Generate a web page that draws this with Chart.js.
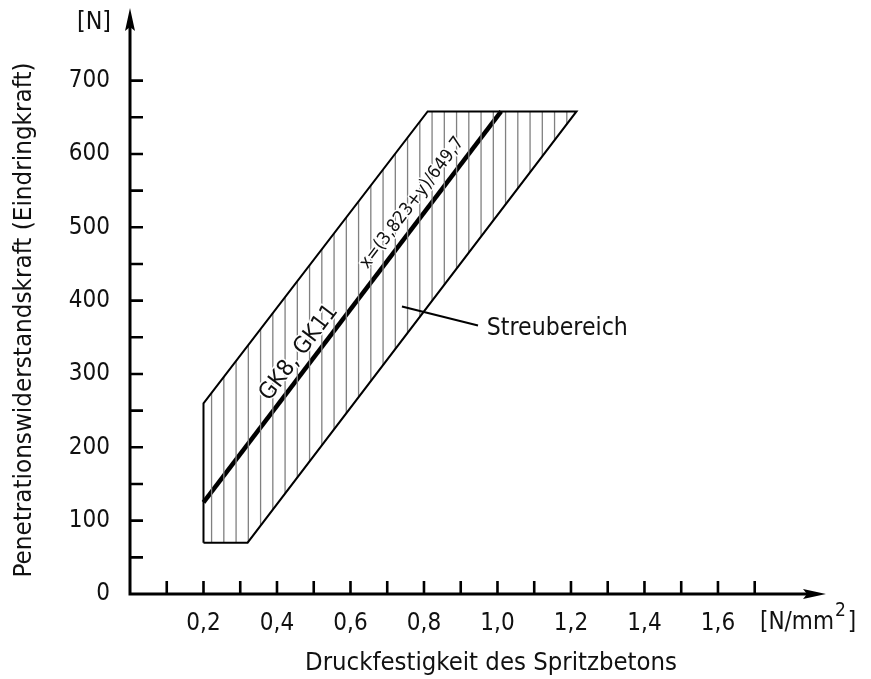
<!DOCTYPE html>
<html>
<head>
<meta charset="utf-8">
<script src="https://cdn.jsdelivr.net/npm/chart.js@4/dist/chart.umd.min.js"></script>
<style>
  html, body { margin: 0; padding: 0; background: #fff; }
  canvas { display: block; }
</style>
</head>
<body>
<canvas id="chart" width="871" height="679"></canvas>
<script>
// Streubereich: outline of the scatter band (x = Druckfestigkeit [N/mm²], y = Eindringkraft [N])
const bandX = [0.20, 0.20, 0.81, 1.215, 0.32, 0.20];
const bandY = [70, 260, 658, 658, 70, 70];

// Regression line for GK8, GK11
const fitX = [0.20, 1.01];
const fitY = [125, 658];

// Axis extent (arrow tips) and tick positions
const xMax = 1.894;
const yMax = 799;
const xTickMarks = [0.1, 0.2, 0.3, 0.4, 0.5, 0.6, 0.7, 0.8, 0.9, 1.0, 1.1, 1.2, 1.3, 1.4, 1.5, 1.6, 1.7];
const xLabelValues = [0.2, 0.4, 0.6, 0.8, 1.0, 1.2, 1.4, 1.6];
const xLabelTexts = ['0,2', '0,4', '0,6', '0,8', '1,0', '1,2', '1,4', '1,6'];
const yTickMarks = [50, 100, 150, 200, 250, 300, 350, 400, 450, 500, 550, 600, 650, 700];
const yLabelValues = [0, 100, 200, 300, 400, 500, 600, 700];
const yLabelTexts = ['0', '100', '200', '300', '400', '500', '600', '700'];

// Annotation anchors (data coordinates)
const fitLabel = { text: 'GK8, GK11', x: 0.460, y: 329 };
const formulaLabel = { text: 'x=(3,823+y)/649,7', x: 0.768, y: 533 };
const bandLabel = { text: 'Streubereich', x: 0.971, y: 361 };
const leaderX = [0.740, 0.947];
const leaderY = [392, 366];

const FONT = '"DejaVu Sans Condensed", "DejaVu Sans", sans-serif';
const INK = '#111';
const HATCH_STEP = 1 / 30;

function drawText(ctx, text, x, y, opts) {
  const o = Object.assign({ size: 24, align: 'center', angle: 0, width: null, halo: false }, opts);
  ctx.save();
  ctx.translate(x, y);
  ctx.rotate(o.angle);
  ctx.font = o.size + 'px ' + FONT;
  ctx.textBaseline = 'middle';
  ctx.textAlign = o.align;
  if (o.width) {
    const w = ctx.measureText(text).width;
    ctx.scale(o.width / w, 1);
  }
  if (o.halo) {
    ctx.strokeStyle = '#fff';
    ctx.lineWidth = 3;
    ctx.lineJoin = 'round';
    ctx.strokeText(text, 0, 0);
  }
  ctx.fillStyle = INK;
  ctx.fillText(text, 0, 0);
  ctx.restore();
}

// Vertical hatching inside the scatter band
const hatchPlugin = {
  id: 'bandHatch',
  beforeDatasetDraw(chart, args) {
    if (args.index !== 0) return;
    const { ctx, scales: { x, y } } = chart;
    const pts = chart.getDatasetMeta(0).data;
    ctx.save();
    ctx.beginPath();
    pts.forEach((p, i) => (i ? ctx.lineTo(p.x, p.y) : ctx.moveTo(p.x, p.y)));
    ctx.closePath();
    ctx.clip();
    ctx.strokeStyle = '#808080';
    ctx.lineWidth = 1.3;
    const lo = Math.min(...bandX), hi = Math.max(...bandX);
    const top = y.getPixelForValue(Math.max(...bandY)) - 2;
    const bot = y.getPixelForValue(Math.min(...bandY)) + 2;
    for (let v = lo + HATCH_STEP * 0.66; v < hi; v += HATCH_STEP) {
      const px = x.getPixelForValue(v);
      ctx.beginPath();
      ctx.moveTo(px, top);
      ctx.lineTo(px, bot);
      ctx.stroke();
    }
    ctx.restore();
  }
};

// Arrowed axes, tick marks, units and annotations
const axisPlugin = {
  id: 'arrowAxes',
  afterDraw(chart) {
    const { ctx, scales: { x, y } } = chart;
    const x0 = x.getPixelForValue(0);
    const y0 = y.getPixelForValue(0);
    const xTip = x.getPixelForValue(xMax);
    const yTip = y.getPixelForValue(yMax);
    ctx.save();
    ctx.strokeStyle = '#000';
    ctx.fillStyle = '#000';
    ctx.lineWidth = 3;
    ctx.lineCap = 'butt';

    // axis lines
    ctx.beginPath();
    ctx.moveTo(x0, y0 + 1.5);
    ctx.lineTo(x0, yTip + 16);
    ctx.moveTo(x0 - 1.5, y0);
    ctx.lineTo(xTip - 16, y0);
    ctx.stroke();

    // arrow heads
    ctx.beginPath();
    ctx.moveTo(x0, yTip);
    ctx.lineTo(x0 - 5, yTip + 23);
    ctx.lineTo(x0, yTip + 19);
    ctx.lineTo(x0 + 5, yTip + 23);
    ctx.closePath();
    ctx.fill();
    ctx.beginPath();
    ctx.moveTo(xTip, y0);
    ctx.lineTo(xTip - 23, y0 - 5);
    ctx.lineTo(xTip - 19, y0);
    ctx.lineTo(xTip - 23, y0 + 5);
    ctx.closePath();
    ctx.fill();

    // tick marks
    ctx.lineWidth = 2.6;
    ctx.beginPath();
    yTickMarks.forEach(v => {
      const py = y.getPixelForValue(v);
      ctx.moveTo(x0, py);
      ctx.lineTo(x0 + 13, py);
    });
    xTickMarks.forEach(v => {
      const px = x.getPixelForValue(v);
      ctx.moveTo(px, y0);
      ctx.lineTo(px, y0 - 13);
    });
    ctx.stroke();

    // leader line to "Streubereich"
    ctx.lineWidth = 2;
    ctx.beginPath();
    ctx.moveTo(x.getPixelForValue(leaderX[0]), y.getPixelForValue(leaderY[0]));
    ctx.lineTo(x.getPixelForValue(leaderX[1]), y.getPixelForValue(leaderY[1]));
    ctx.stroke();
    ctx.restore();

    // units
    drawText(ctx, '[N]', x0 - 36, yTip + 15, { size: 24, width: 34 });
    const uy = y0 + 29;
    ctx.save();
    ctx.font = '24px ' + FONT;
    const wA = ctx.measureText('[N/mm').width;
    ctx.font = '19px ' + FONT;
    const w2 = ctx.measureText('2').width;
    ctx.restore();
    const ux = 760;
    drawText(ctx, '[N/mm', ux, uy, { size: 24, align: 'left' });
    drawText(ctx, '2', ux + wA + 1, uy - 12, { size: 19, align: 'left' });
    drawText(ctx, ']', ux + wA + w2 + 3, uy, { size: 24, align: 'left' });

    // axis titles
    drawText(ctx, 'Druckfestigkeit des Spritzbetons', 491, 664, { size: 24, width: 372 });
    drawText(ctx, 'Penetrationswiderstandskraft (Eindringkraft)', 25, 320, { size: 24, angle: -Math.PI / 2, width: 515 });

    // annotations along the regression line
    const p0x = x.getPixelForValue(fitX[0]), p0y = y.getPixelForValue(fitY[0]);
    const p1x = x.getPixelForValue(fitX[1]), p1y = y.getPixelForValue(fitY[1]);
    const ang = Math.atan2(p1y - p0y, p1x - p0x);
    drawText(ctx, fitLabel.text, x.getPixelForValue(fitLabel.x), y.getPixelForValue(fitLabel.y),
      { size: 23, angle: ang, width: 114, halo: true });
    drawText(ctx, formulaLabel.text, x.getPixelForValue(formulaLabel.x), y.getPixelForValue(formulaLabel.y),
      { size: 18, angle: ang, width: 160, halo: true });
    drawText(ctx, bandLabel.text, x.getPixelForValue(bandLabel.x), y.getPixelForValue(bandLabel.y),
      { size: 24, align: 'left', width: 141 });
  }
};

new Chart(document.getElementById('chart'), {
  type: 'scatter',
  data: {
    datasets: [
      {
        label: 'Streubereich',
        data: bandX.map((v, i) => ({ x: v, y: bandY[i] })),
        showLine: true,
        borderColor: '#000',
        borderWidth: 2,
        borderJoinStyle: 'miter',
        pointRadius: 0,
        tension: 0,
        fill: false
      },
      {
        label: 'GK8, GK11',
        data: fitX.map((v, i) => ({ x: v, y: fitY[i] })),
        showLine: true,
        borderColor: '#000',
        borderWidth: 4.5,
        borderCapStyle: 'butt',
        pointRadius: 0,
        tension: 0,
        fill: false
      }
    ]
  },
  options: {
    responsive: false,
    animation: false,
    layout: { padding: { top: 8, right: 45, left: 0, bottom: 0 } },
    plugins: { legend: { display: false }, tooltip: { enabled: false } },
    scales: {
      x: {
        type: 'linear',
        min: 0,
        max: xMax,
        grid: { display: false, drawTicks: false },
        border: { display: false },
        afterBuildTicks: s => { s.ticks = xLabelValues.map(v => ({ value: v })); },
        afterFit: s => { s.height = 85; s.paddingLeft = 0; s.paddingRight = 0; },
        ticks: {
          autoSkip: false,
          maxRotation: 0,
          padding: 15,
          color: INK,
          font: { family: FONT, size: 24 },
          callback: (v, i) => xLabelTexts[i]
        }
      },
      y: {
        type: 'linear',
        min: 0,
        max: yMax,
        grid: { display: false, drawTicks: false },
        border: { display: false },
        afterBuildTicks: s => { s.ticks = yLabelValues.map(v => ({ value: v })); },
        afterFit: s => { s.width = 130; s.paddingTop = 0; s.paddingBottom = 0; },
        ticks: {
          autoSkip: false,
          padding: 20,
          color: INK,
          font: { family: FONT, size: 24 },
          callback: (v, i) => yLabelTexts[i]
        }
      }
    }
  },
  plugins: [hatchPlugin, axisPlugin]
});
</script>
</body>
</html>
